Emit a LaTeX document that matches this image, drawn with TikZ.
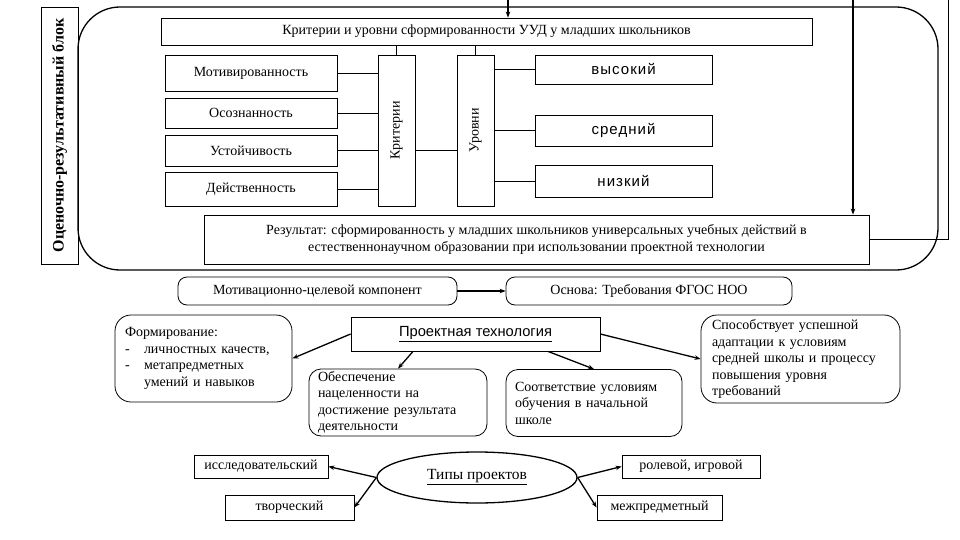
\documentclass[tikz,border=0pt]{standalone}
\usepackage{fontspec}
\setmainfont{Liberation Serif}
\newfontfamily\sansf{Liberation Sans}
\newfontfamily\lvlf[LetterSpace=7]{Liberation Sans}
\usetikzlibrary{arrows.meta,shapes.geometric,calc}
\begin{document}
\begin{tikzpicture}[x=1pt,y=-1pt,
  box/.style={draw, line width=0.8pt, inner sep=0pt, font=\fontsize{14}{16}\selectfont},
  rbox/.style={box, rounded corners=9pt},
  lvl/.style={box, font=\lvlf\fontsize{15}{17}\selectfont},
  ln/.style={line width=0.8pt},
  arr/.style={line width=1.3pt, -{Stealth[length=6pt,width=4.5pt]}},
  txt/.style={align=left, font=\fontsize{14}{16.5}\selectfont}
]
\fill[white] (0,0) rectangle (960,540);
\useasboundingbox (0,0) rectangle (960,540);

% frame
\node[draw, line width=1.3pt, rounded corners=42pt, minimum width=860, minimum height=263, inner sep=0pt] (frame) at (508,138.5) {};
\node[box, minimum width=37, minimum height=257] (blk) at (59.5,135.5) {\rotatebox{90}{\fontsize{16}{18}\selectfont\bfseries Оценочно-результативный блок}};

\node[box, minimum width=651, minimum height=27] (head) at (486.5,31.5) {Критерии и уровни сформированности УУД у младших школьников};

\node[box, minimum width=172, minimum height=36] (mot) at (251,73) {Мотивированность};
\node[box, minimum width=172, minimum height=30] (osz) at (251,113) {Осознанность};
\node[box, minimum width=172, minimum height=31] (ust) at (251,150.5) {Устойчивость};
\node[box, minimum width=172, minimum height=34] (dei) at (251,189) {Действенность};

\node[box, minimum width=37, minimum height=151] (krit) at (396.5,130.5) {\rotatebox{90}{Критерии}};
\node[box, minimum width=37, minimum height=151] (urov) at (475.5,130.5) {\rotatebox{90}{Уровни}};

\node[lvl, minimum width=177, minimum height=29] (vys) at (623.5,69.5) {высокий};
\node[lvl, minimum width=177, minimum height=31] (sred) at (623.5,130.5) {средний};
\node[lvl, minimum width=177, minimum height=32] (niz) at (623.5,181) {низкий};

\node[box, minimum width=665, minimum height=49, align=center, font=\fontsize{14}{17}\selectfont] (res) at (536.5,239.5) {Результат: сформированность у младших школьников универсальных учебных действий в\\естественнонаучном образовании при использовании проектной технологии};

% connectors upper block
\draw[ln] (krit.north) -- (krit.north |- head.south);
\draw[ln] (urov.north) -- (urov.north |- head.south);
\draw[ln] (mot.east) -- (mot.east -| krit.west);
\draw[ln] (osz.east) -- (osz.east -| krit.west);
\draw[ln] (ust.east) -- (ust.east -| krit.west);
\draw[ln] (dei.east) -- (dei.east -| krit.west);
\draw[ln] (krit.east |- ust.east) -- (urov.west |- ust.east);
\draw[ln] (urov.east |- vys.west) -- (vys.west);
\draw[ln] (urov.east |- sred.west) -- (sred.west);
\draw[ln] (urov.east |- niz.west) -- (niz.west);

\coordinate (topA) at (508,0);
\coordinate (topB) at (853,0);
\coordinate (topC) at (948,0);
\draw[arr] (topA) -- (topA |- head.north);
\draw[arr] (topB) -- (topB |- res.north);
\draw[ln] (topC) |- (res.east);

% middle
\node[rbox, minimum width=279, minimum height=28] (motc) at (317.5,291) {Мотивационно-целевой компонент};
\node[rbox, minimum width=286, minimum height=28] (osn) at (649,291) {Основа: Требования ФГОС НОО};
\draw[arr] (motc.east) -- (osn.west);

\node[box, minimum width=249, minimum height=34, font=\sansf\fontsize{14.7}{17}\selectfont] (proj) at (475.5,334) {\underline{Проектная технология}};

\node[rbox, rounded corners=16pt, minimum width=177, minimum height=87, txt, text width=157] (form) at (203.5,358.5) {Формирование:\\\makebox[19pt][l]{-}личностных качеств,\\\makebox[19pt][l]{-}метапредметных\\\hspace*{19pt}умений и навыков};
\node[rbox, rounded corners=12pt, minimum width=178, minimum height=67, txt, text width=160] (obes) at (398,402.5) {Обеспечение\\нацеленности на\\достижение результата\\деятельности};
\node[rbox, rounded corners=12pt, minimum width=176, minimum height=67, txt, text width=158] (soot) at (594,403) {Соответствие условиям\\обучения в начальной\\школе};
\node[rbox, rounded corners=16pt, minimum width=199, minimum height=88, txt, text width=177] (spos) at (800.5,359) {Способствует успешной\\адаптации к условиям\\средней школы и процессу\\повышения уровня\\требований};

\draw[arr] (proj.west) -- (form.east);
\draw[arr] ($(proj.south west)!0.25!(proj.south east)$) -- (obes.north);
\draw[arr] ($(proj.south west)!0.79!(proj.south east)$) -- (soot.north);
\draw[arr] (proj.east) -- (spos.west);

% bottom
\node[draw, ellipse, line width=1.3pt, inner sep=0pt, minimum width=200, minimum height=51, font=\fontsize{15.5}{17}\selectfont] (types) at (477,477.5) {\underline{Типы проектов}};
\node[box, minimum width=134, minimum height=23] (issl) at (261,466.5) {исследовательский};
\node[box, minimum width=129, minimum height=25] (tvor) at (289.5,507.5) {творческий};
\node[box, minimum width=138, minimum height=23] (rol) at (691,466.5) {ролевой, игровой};
\node[box, minimum width=125, minimum height=25] (mezh) at (659.5,507.5) {межпредметный};
\draw[arr] (types.west) -- (issl.east);
\draw[arr] (types.west) -- (tvor.east);
\draw[arr] (types.east) -- (rol.west);
\draw[arr] (types.east) -- (mezh.west);
\end{tikzpicture}
\end{document}
